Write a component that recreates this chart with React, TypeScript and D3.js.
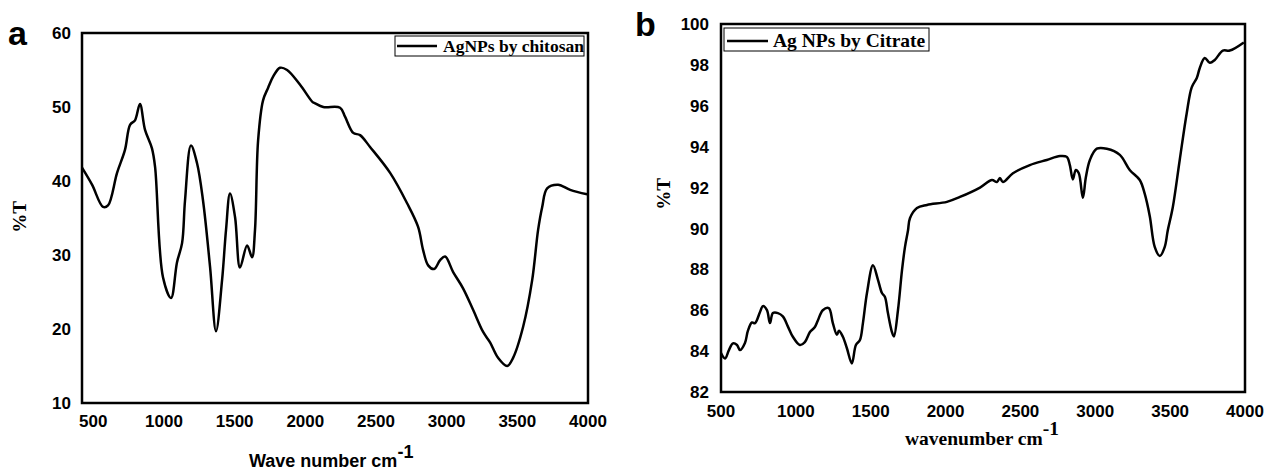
import React from "react";
import * as d3 from "d3";

// Panel a: AgNPs by chitosan
const chitosanWave = [420, 491, 569, 604, 668, 724, 760, 795, 830, 866, 915, 937, 993, 1050, 1092, 1128, 1149, 1191, 1234, 1276, 1326, 1368, 1411, 1439, 1467, 1503, 1538, 1588, 1623, 1644, 1666, 1701, 1737, 1772, 1821, 1871, 1963, 2050, 2069, 2127, 2246, 2281, 2339, 2387, 2458, 2600, 2720, 2798, 2833, 2869, 2911, 2954, 2989, 3046, 3116, 3187, 3258, 3307, 3364, 3428, 3470, 3541, 3605, 3647, 3676, 3711, 3789, 3874, 3994];
const chitosanT = [41.8, 39.5, 36.5, 36.7, 41.1, 44.2, 47.6, 48.2, 50.4, 46.9, 44.4, 41.9, 27.0, 24.2, 29.0, 31.6, 37.4, 44.8, 42.4, 37.4, 28.4, 19.7, 26.6, 33.4, 38.3, 35.1, 28.3, 31.3, 29.7, 33.4, 45.5, 50.9, 52.6, 54.1, 55.3, 55.0, 53.0, 50.7, 50.5, 50.0, 49.9, 48.7, 46.5, 46.2, 44.6, 41.1, 37.0, 33.8, 30.7, 28.6, 28.1, 29.3, 29.8, 27.7, 25.5, 22.6, 19.6, 18.2, 16.1, 15.0, 16.1, 20.3, 26.6, 33.4, 36.5, 39.0, 39.5, 38.8, 38.2];

// Panel b: Ag NPs by Citrate
const citrateWave = [500, 527, 553, 580, 607, 627, 660, 680, 707, 727, 760, 780, 807, 827, 847, 880, 913, 947, 980, 1027, 1060, 1094, 1127, 1147, 1180, 1220, 1247, 1274, 1288, 1314, 1341, 1374, 1401, 1428, 1448, 1475, 1515, 1548, 1575, 1595, 1615, 1642, 1655, 1682, 1709, 1729, 1749, 1762, 1809, 1876, 2009, 2096, 2230, 2310, 2343, 2363, 2383, 2450, 2563, 2676, 2764, 2810, 2830, 2850, 2870, 2890, 2917, 2937, 2964, 3010, 3077, 3164, 3230, 3297, 3330, 3364, 3397, 3431, 3464, 3484, 3518, 3564, 3611, 3644, 3678, 3698, 3731, 3765, 3798, 3852, 3898, 3992];
const citrateT = [83.9, 83.64, 84.05, 84.38, 84.3, 84.05, 84.4, 85.0, 85.4, 85.37, 85.9, 86.2, 86.0, 85.37, 85.86, 85.86, 85.7, 85.2, 84.7, 84.3, 84.44, 84.93, 85.18, 85.5, 86.0, 86.1, 85.37, 84.8, 85.0, 84.7, 84.14, 83.4, 84.3, 84.54, 85.37, 86.84, 88.2, 87.5, 86.84, 86.65, 85.86, 84.93, 84.72, 86.0, 87.96, 89.1, 89.9, 90.5, 91.0, 91.15, 91.3, 91.54, 92.0, 92.37, 92.27, 92.47, 92.27, 92.7, 93.1, 93.35, 93.54, 93.5, 93.1, 92.4, 92.86, 92.7, 91.5, 92.5, 93.35, 93.9, 93.9, 93.6, 92.86, 92.37, 91.7, 90.6, 89.1, 88.65, 89.1, 89.9, 91.05, 93.35, 95.65, 96.9, 97.36, 97.85, 98.34, 98.1, 98.24, 98.7, 98.7, 99.1];

const xTicks = [500, 1000, 1500, 2000, 2500, 3000, 3500, 4000];
const yTicksA = [10, 20, 30, 40, 50, 60];
const yTicksB = [82, 84, 86, 88, 90, 92, 94, 96, 98, 100];

const SANS = "'Liberation Sans', Arial, sans-serif";
const SERIF = "'Liberation Serif', 'Times New Roman', serif";

export default function App() {
  // Panel a geometry
  const ax = d3.scaleLinear().domain([420, 4000]).range([82, 588]);
  const ay = d3.scaleLinear().domain([10, 60]).range([403, 33]);
  const bx = d3.scaleLinear().domain([500, 4000]).range([721, 1245]);
  const by = d3.scaleLinear().domain([82, 100]).range([392, 24]);

  const lineA = d3
    .line<number>()
    .x((_, i) => ax(chitosanWave[i]))
    .y((d) => ay(d))
    .curve(d3.curveCatmullRom.alpha(0.5));
  const lineB = d3
    .line<number>()
    .x((_, i) => bx(citrateWave[i]))
    .y((d) => by(d))
    .curve(d3.curveCatmullRom.alpha(0.5));

  return (
    <svg width={1267} height={470} style={{ display: "block", position: "absolute", left: 0, top: 0 }}>
      <rect x={0} y={0} width={1267} height={470} fill="#fff" />
      {/* Panel a */}
      <text x={8} y={45} fontFamily={SANS} fontWeight="bold" fontSize={34}>a</text>
      <rect x={ax.range()[0]} y={ay.range()[1]} width={ax.range()[1] - ax.range()[0]} height={ay.range()[0] - ay.range()[1]} fill="none" stroke="#000" strokeWidth={2.5} />
      {yTicksA.map((t) => (
        <text key={t} x={71} y={ay(t)} dy="0.36em" textAnchor="end" fontFamily={SANS} fontWeight="bold" fontSize={17}>{t}</text>
      ))}
      {xTicks.map((t) => (
        <text key={t} x={ax(t)} y={427} textAnchor="middle" fontFamily={SANS} fontWeight="bold" fontSize={17}>{t}</text>
      ))}
      <path d={lineA(chitosanT) || ""} fill="none" stroke="#000" strokeWidth={2.5} strokeLinejoin="round" />
      <g>
        <rect x={395} y={36} width={189} height={20} fill="#fff" stroke="#000" strokeWidth={1} />
        <line x1={397} x2={437} y1={46} y2={46} stroke="#000" strokeWidth={2.5} />
        <text x={443} y={52} fontFamily={SERIF} fontWeight="bold" fontSize={17.5}>AgNPs by chitosan</text>
      </g>
      <text transform="translate(26,217) rotate(-90)" textAnchor="middle" fontFamily={SERIF} fontWeight="bold" fontSize={19}>%T</text>
      <text x={249} y={467} fontFamily={SANS} fontWeight="bold" fontSize={18}>
        Wave number cm<tspan dy={-9} fontSize={18}>-1</tspan>
      </text>

      {/* Panel b */}
      <text x={635} y={36} fontFamily={SANS} fontWeight="bold" fontSize={34}>b</text>
      <rect x={bx.range()[0]} y={by.range()[1]} width={bx.range()[1] - bx.range()[0]} height={by.range()[0] - by.range()[1]} fill="none" stroke="#000" strokeWidth={2.5} />
      {yTicksB.map((t) => (
        <text key={t} x={709} y={by(t)} dy="0.36em" textAnchor="end" fontFamily={SANS} fontWeight="bold" fontSize={17}>{t}</text>
      ))}
      {xTicks.map((t) => (
        <text key={t} x={bx(t)} y={417} textAnchor="middle" fontFamily={SANS} fontWeight="bold" fontSize={17}>{t}</text>
      ))}
      <path d={lineB(citrateT) || ""} fill="none" stroke="#000" strokeWidth={2.5} strokeLinejoin="round" />
      <g>
        <rect x={724} y={28} width={205} height={23} fill="#fff" stroke="#000" strokeWidth={1} />
        <line x1={727} x2={768} y1={41} y2={41} stroke="#000" strokeWidth={2.5} />
        <text x={773} y={47} fontFamily={SERIF} fontWeight="bold" fontSize={19.5}>Ag NPs by Citrate</text>
      </g>
      <text transform="translate(670,194) rotate(-90)" textAnchor="middle" fontFamily={SERIF} fontWeight="bold" fontSize={19}>%T</text>
      <text x={905} y={445} fontFamily={SERIF} fontWeight="bold" fontSize={19.5}>
        wavenumber cm<tspan dy={-10} fontSize={19.5}>-1</tspan>
      </text>
    </svg>
  );
}
